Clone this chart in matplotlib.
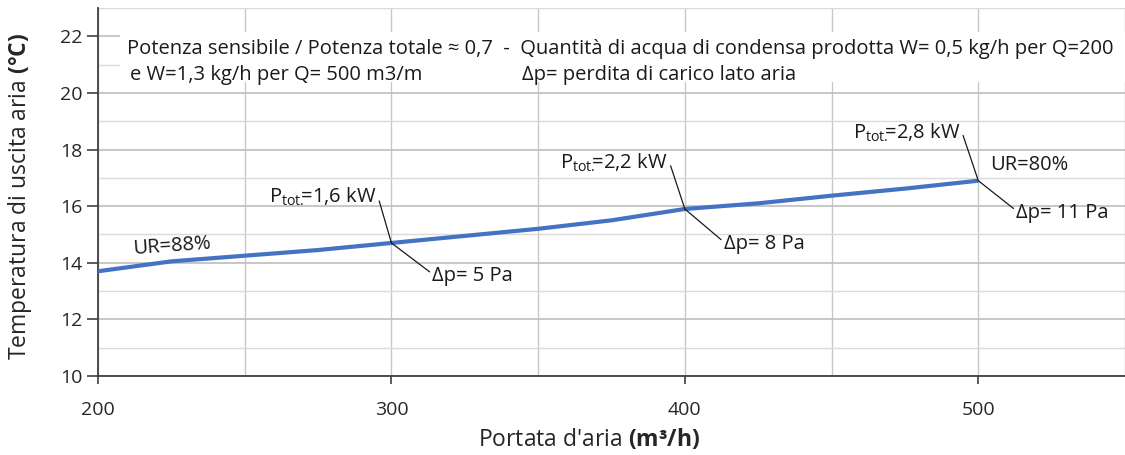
import matplotlib
matplotlib.use("Agg")
import matplotlib.pyplot as plt
from matplotlib.ticker import MultipleLocator
from matplotlib.patches import Rectangle

# ---- data ----
flow = [200, 225, 250, 275, 300, 325, 350, 375, 400, 425, 450, 475, 500]
temp = [13.7, 14.05, 14.25, 14.45, 14.7, 14.95, 15.2, 15.5, 15.9, 16.1, 16.37, 16.62, 16.9]
ann_flow = [300, 400, 500]
ann_ptot = ["1,6", "2,2", "2,8"]
ann_dp = ["5", "8", "11"]
x_ticks = [200, 300, 400, 500]
y_ticks = [10, 12, 14, 16, 18, 20, 22]
header_1 = "Potenza sensibile / Potenza totale \u2248 0,7  -  Quantit\u00e0 di acqua di condensa prodotta W= 0,5 kg/h per Q=200"
header_2a = "e W=1,3 kg/h per Q= 500 m3/m"
header_2b = "\u0394p= perdita di carico lato aria"
ur_start = "UR=88%"
ur_end = "UR=80%"
xlabel = r"Portata d'aria $\mathbf{(m³/h)}$"
ylabel = r"Temperatura di uscita aria $\mathbf{(°C)}$"

plt.rcParams['font.family'] = ['Open Sans', 'DejaVu Sans']
plt.rcParams['mathtext.fontset'] = 'custom'
plt.rcParams['mathtext.rm'] = 'Open Sans'
plt.rcParams['mathtext.it'] = 'Open Sans:italic'
plt.rcParams['mathtext.bf'] = 'Open Sans:bold'

fig = plt.figure(figsize=(11.25, 4.55), dpi=100)
ax = fig.add_axes([0.0871, 0.1736, 0.9129, 0.8088])

ax.set_xlim(200, 550)
ax.set_ylim(10, 23)

ax.plot(flow, temp, color='#4472C4', lw=3.0, solid_capstyle='butt', zorder=3)

# grid
ax.set_axisbelow(True)
ax.set_xticks(x_ticks)
ax.xaxis.set_minor_locator(MultipleLocator(50))
ax.set_yticks(y_ticks)
ax.yaxis.set_minor_locator(MultipleLocator(1))
ax.grid(axis='x', which='both', color='#c8c8c8', lw=1.0)
ax.grid(axis='y', which='major', color='#bdbdbd', lw=1.2)
ax.grid(axis='y', which='minor', color='#dadada', lw=1.0)
ax.tick_params(which='minor', length=0)
ax.tick_params(axis='x', which='major', length=6, width=1.2, color='#404040', pad=12,
               labelsize=14, labelcolor='#262626')
ax.tick_params(axis='y', which='major', length=8, width=1.2, color='#404040', pad=3,
               labelsize=14, labelcolor='#262626')
for s in ['top', 'right']:
    ax.spines[s].set_visible(False)
for s in ['left', 'bottom']:
    ax.spines[s].set_color('#404040')
    ax.spines[s].set_linewidth(1.3)

# header box
ax.add_patch(Rectangle((0.0214, 0.799), 1.0, 0.136, transform=ax.transAxes,
                       facecolor='white', edgecolor='none', zorder=2, clip_on=False))
hfs = 14.5
ax.text(0.0282, 0.889, header_1, transform=ax.transAxes, fontsize=hfs,
        va='center', ha='left', color='#1a1a1a', zorder=4)
ax.text(0.031, 0.818, header_2a, transform=ax.transAxes, fontsize=hfs,
        va='center', ha='left', color='#1a1a1a', zorder=4)
ax.text(0.4128, 0.818, header_2b, transform=ax.transAxes, fontsize=hfs,
        va='center', ha='left', color='#1a1a1a', zorder=4)

# annotations
afs = 14.5
ptot_off = [(-15, 46), (-17, 46), (-18, 48)]
dp_off = [(41, -33), (39, -35), (38, -32)]
for fx, p, d, po, do in zip(ann_flow, ann_ptot, ann_dp, ptot_off, dp_off):
    fy = temp[flow.index(fx)]
    ax.annotate(r"P$_{\mathrm{tot.}}\!\!$=" + p + " kW", xy=(fx, fy), xytext=po,
                textcoords='offset pixels', ha='right', va='center', fontsize=afs,
                color='#1a1a1a', zorder=5,
                arrowprops=dict(arrowstyle='-', color='#1a1a1a', lw=0.9,
                                shrinkA=0, shrinkB=0, relpos=(1.0, 0.75)))
    ax.annotate("\u0394p= " + d + " Pa", xy=(fx, fy), xytext=do,
                textcoords='offset pixels', ha='left', va='center', fontsize=afs,
                color='#1a1a1a', zorder=5,
                arrowprops=dict(arrowstyle='-', color='#1a1a1a', lw=0.9,
                                shrinkA=0, shrinkB=0, relpos=(0.0, 0.6)))

ax.annotate(ur_start, xy=(flow[0], temp[0]), xytext=(34, 25), textcoords='offset pixels',
            ha='left', va='center', fontsize=afs, color='#1a1a1a', rotation=4, zorder=5)
ax.annotate(ur_end, xy=(flow[-1], temp[-1]), xytext=(12, 16), textcoords='offset pixels',
            ha='left', va='center', fontsize=afs, color='#1a1a1a', zorder=5)

ax.set_xlabel(xlabel, fontsize=16.5, color='#262626')
ax.set_ylabel(ylabel, fontsize=16.5, color='#262626')
ax.xaxis.set_label_coords(0.478, -0.138)
ax.yaxis.set_label_coords(-0.062, 0.489)

fig.savefig("out.png", dpi=100)
